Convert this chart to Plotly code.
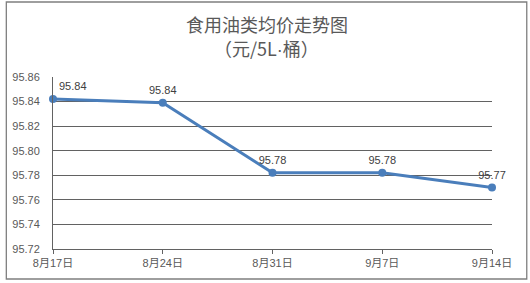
import plotly.graph_objects as go

categories = ["8月17日", "8月24日", "8月31日", "9月7日", "9月14日"]
prices = [95.842, 95.839, 95.782, 95.782, 95.770]
y_ticks = [95.72, 95.74, 95.76, 95.78, 95.80, 95.82, 95.84, 95.86]
title_line1 = "食用油类均价走势图"
title_line2 = "（元/5L<span style=\"font-family:Liberation Sans\">·</span>桶）"

W, H = 530, 283
L, R, T, B = 50, 38, 77, 34

font_family = "Liberation Sans, Noto Sans CJK SC, sans-serif"
grid_col = "#626262"
text_col = "#595959"

fig = go.Figure()
fig.add_trace(go.Scatter(
    x=list(range(len(categories))),
    y=prices,
    mode="lines+markers+text",
    line=dict(color="#4A7EBB", width=3),
    marker=dict(color="#4A7EBB", size=8),
    text=[f"{v:.2f}" for v in prices],
    textposition=["top right", "top center", "top center", "top center", "top center"],
    textfont=dict(size=11, color="#404040", family=font_family),
    cliponaxis=False,
    hoverinfo="skip",
))

pw = W - L - R
ph = H - T - B

def px_x(px):
    return (px - L) / pw

def px_y(py):
    return (H - B - py) / ph

fig.add_shape(type="rect", xref="paper", yref="paper",
              x0=px_x(3), x1=px_x(527), y0=px_y(279), y1=px_y(2),
              line=dict(color="#7f7f7f", width=1.3), layer="below")

title_font = dict(size=18, color=text_col, family="Noto Sans CJK SC, sans-serif")
fig.add_annotation(text=title_line1, xref="paper", yref="paper",
                   x=px_x(W / 2), y=px_y(24), xanchor="center", yanchor="middle",
                   showarrow=False, font=title_font)
fig.add_annotation(text=title_line2, xref="paper", yref="paper",
                   x=px_x(W / 2), y=px_y(48), xanchor="center", yanchor="middle",
                   showarrow=False, font=title_font)

fig.update_layout(
    width=W, height=H,
    margin=dict(l=L, r=R, t=T, b=B),
    paper_bgcolor="white", plot_bgcolor="white",
    showlegend=False,
    font=dict(family=font_family, color=text_col, size=11),
)
fig.update_xaxes(
    tickmode="array", tickvals=list(range(len(categories))), ticktext=categories,
    range=[0, len(categories) - 1],
    showgrid=False, zeroline=False,
    showline=True, linecolor=grid_col, linewidth=1,
    ticks="outside", ticklen=4, tickcolor=grid_col,
    tickfont=dict(size=11, color=text_col),
)
fig.update_yaxes(
    tickmode="array", tickvals=y_ticks, ticktext=[f"{v:.2f}" for v in y_ticks],
    range=[95.72, 95.86],
    showgrid=True, gridcolor=grid_col, gridwidth=1,
    zeroline=False,
    showline=True, linecolor=grid_col, linewidth=1,
    ticks="", ticklabelstandoff=10,
    tickfont=dict(size=11, color=text_col),
)

fig.write_html("out.html")
